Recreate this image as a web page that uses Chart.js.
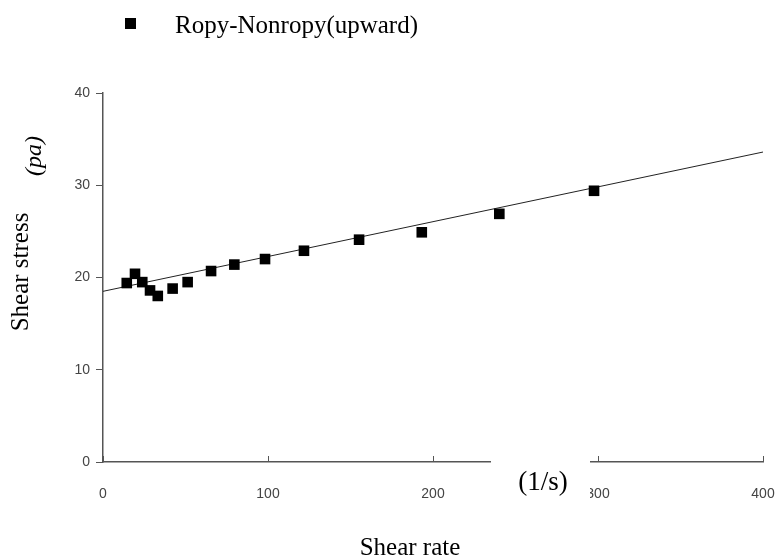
<!DOCTYPE html>
<html>
<head>
<meta charset="utf-8">
<script src="https://cdn.jsdelivr.net/npm/chart.js@4.4.1/dist/chart.umd.min.js"></script>
<style>
  html, body { margin: 0; padding: 0; background: #fff; }
  #wrap { width: 779px; height: 560px; position: relative; }
</style>
</head>
<body>
<div id="wrap"><canvas id="myChart" width="779" height="560"></canvas></div>
<script>
// Dados
var shearRate = [14.4, 19.4, 23.8, 28.5, 33.2, 42.2, 51.3, 65.5, 79.6, 98.2, 121.8, 155.2, 193.2, 240.2, 297.6];
var shearStress = [19.4, 20.4, 19.5, 18.6, 18.0, 18.8, 19.5, 20.7, 21.4, 22.0, 22.9, 24.1, 24.9, 26.9, 29.4];
// Linha de tendência (extremos)
var fitX = [0, 400];
var fitY = [18.5, 33.6];
var xTicks = [0, 100, 200, 300, 400];
var yTicks = [0, 10, 20, 30, 40];
var seriesName = 'Ropy-Nonropy(upward)';

var points = shearRate.map(function (x, i) { return { x: x, y: shearStress[i] }; });
var fitLine = fitX.map(function (x, i) { return { x: x, y: fitY[i] }; });

// Plugin para textos, legenda e marcas internas do eixo x
var extras = {
    id: 'extras',
    afterDraw: function (chart) {
        var ctx = chart.ctx;
        var xs = chart.scales.x;
        var area = chart.chartArea;
        ctx.save();

        // marcas do eixo x para dentro
        ctx.strokeStyle = '#555';
        ctx.lineWidth = 1;
        xTicks.forEach(function (v) {
            var px = Math.round(xs.getPixelForValue(v)) + 0.5;
            ctx.beginPath();
            ctx.moveTo(px, area.bottom);
            ctx.lineTo(px, area.bottom - 6);
            ctx.stroke();
        });

        // legenda
        ctx.fillStyle = '#000';
        ctx.fillRect(125, 18, 11, 11);
        ctx.font = '25px "Liberation Serif", "Times New Roman", serif';
        ctx.textBaseline = 'alphabetic';
        ctx.textAlign = 'left';
        ctx.fillText(seriesName, 175, 33);

        // caixa branca com (1/s)
        ctx.fillStyle = '#fff';
        ctx.fillRect(491, 453, 99, 62);
        ctx.fillStyle = '#000';
        ctx.textAlign = 'center';
        ctx.font = '27px "Liberation Serif", "Times New Roman", serif';
        ctx.fillText('(1/s)', 543, 490);

        // título eixo x
        ctx.font = '25px "Liberation Serif", "Times New Roman", serif';
        ctx.fillText('Shear rate', 410, 555);

        // título eixo y
        ctx.save();
        ctx.translate(28, 272);
        ctx.rotate(-Math.PI / 2);
        ctx.fillText('Shear stress', 0, 0);
        ctx.restore();

        ctx.save();
        ctx.fillStyle = '#fff';
        ctx.fillRect(27, 130, 20, 50);
        ctx.fillStyle = '#000';
        ctx.translate(41, 156);
        ctx.rotate(-Math.PI / 2);
        ctx.font = 'italic 24px "Liberation Serif", "Times New Roman", serif';
        ctx.fillText('(pa)', 0, 0);
        ctx.restore();

        ctx.restore();
    }
};

var config = {
    type: 'scatter',
    data: {
        datasets: [{
            label: seriesName,
            data: points,
            pointStyle: 'rect',
            pointRadius: 7.5,
            pointHoverRadius: 7.5,
            backgroundColor: '#000',
            borderColor: '#000',
            borderWidth: 0,
            order: 1
        }, {
            type: 'line',
            label: 'fit',
            data: fitLine,
            borderColor: '#222',
            borderWidth: 1,
            pointRadius: 0,
            fill: false,
            order: 2
        }]
    },
    options: {
        responsive: false,
        animation: false,
        layout: { autoPadding: false, padding: { left: 0, right: 16, top: 93, bottom: 0 } },
        plugins: {
            legend: { display: false },
            tooltip: { enabled: false }
        },
        scales: {
            x: {
                type: 'linear',
                min: 0,
                max: 400,
                afterBuildTicks: function (axis) {
                    axis.ticks = xTicks.map(function (v) { return { value: v }; });
                },
                afterFit: function (axis) { axis.height = 98; },
                border: { display: true, color: '#555', width: 1.5 },
                // marcas transparentes só para empurrar os rótulos para baixo
                grid: { drawOnChartArea: false, drawTicks: true, tickLength: 21, tickColor: 'rgba(0,0,0,0)' },
                ticks: {
                    padding: 3,
                    color: '#444',
                    font: { family: '"Liberation Sans", Arial, sans-serif', size: 14 },
                    maxRotation: 0
                }
            },
            y: {
                type: 'linear',
                min: 0,
                max: 40,
                afterBuildTicks: function (axis) {
                    axis.ticks = yTicks.map(function (v) { return { value: v }; });
                },
                afterFit: function (axis) { axis.width = 103; },
                border: { display: true, color: '#555', width: 1.5 },
                grid: { drawOnChartArea: false, drawTicks: true, tickLength: 7, color: '#555' },
                ticks: {
                    padding: 6,
                    color: '#444',
                    font: { family: '"Liberation Sans", Arial, sans-serif', size: 14 }
                }
            }
        }
    },
    plugins: [extras]
};

var ctx = document.getElementById('myChart').getContext('2d');
var chart = new Chart(ctx, config);
</script>
</body>
</html>
